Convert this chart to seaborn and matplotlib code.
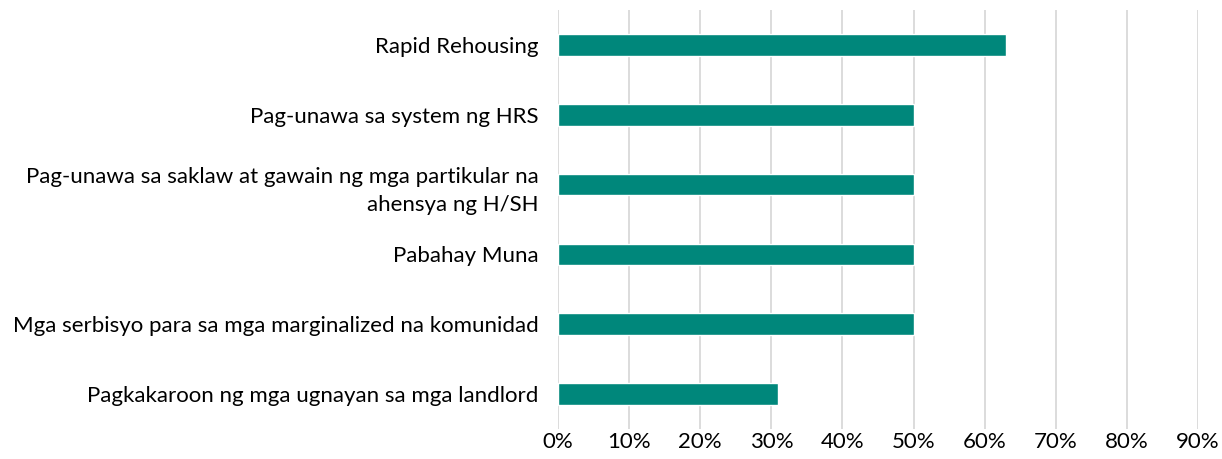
import matplotlib
matplotlib.use("Agg")
import matplotlib.pyplot as plt
import seaborn as sns
import pandas as pd
from matplotlib.ticker import PercentFormatter, MultipleLocator

categories = [
    "Rapid Rehousing",
    "Pag-unawa sa system ng HRS",
    "Pag-unawa sa saklaw at gawain ng mga partikular na\nahensya ng H/SH",
    "Pabahay Muna",
    "Mga serbisyo para sa mga marginalized na komunidad",
    "Pagkakaroon ng mga ugnayan sa mga landlord",
]
values = [0.63, 0.50, 0.50, 0.50, 0.50, 0.31]

df = pd.DataFrame({"category": categories, "value": values})

sns.set_style("white")
plt.rcParams["font.family"] = ["Lato", "DejaVu Sans"]

fig = plt.figure(figsize=(12.22, 4.59), dpi=100)
ax = fig.add_axes([558 / 1222, 30 / 459, 640 / 1222, 419 / 459])

sns.barplot(data=df, x="value", y="category", orient="h",
            color="#00877B", width=0.31, saturation=1, ax=ax)

ax.set_xlim(0, 0.9)
ax.xaxis.set_major_locator(MultipleLocator(0.1))
ax.xaxis.set_major_formatter(PercentFormatter(1.0, decimals=0))
ax.grid(axis="x", color="#D9D9D9", linewidth=1.3)
ax.set_axisbelow(True)
for s in ax.spines.values():
    s.set_visible(False)
ax.tick_params(axis="both", length=0, labelsize=16, colors="black")
ax.tick_params(axis="y", pad=14)
ax.tick_params(axis="x", pad=2)
for t in ax.get_yticklabels():
    t.set_linespacing(1.5)
ax.set_xlabel("")
ax.set_ylabel("")

fig.savefig("out.png", dpi=100)
